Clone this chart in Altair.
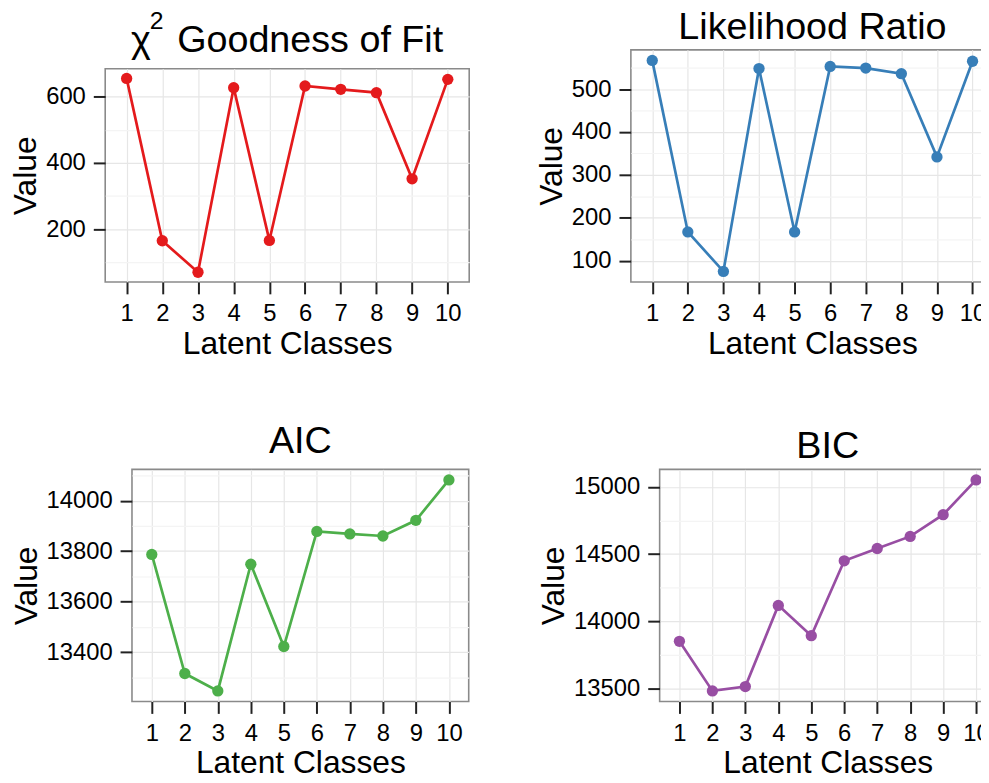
import altair as alt
import pandas as pd

classes = list(range(1, 11))
chisq_vals = [655, 165, 70, 627, 166, 632, 622, 612, 352, 652]
lr_vals = [567, 167, 75, 548, 167, 553, 549, 536, 342, 565]
aic_vals = [13787, 13315, 13246, 13748, 13422, 13878, 13868, 13860, 13922, 14082]
bic_vals = [13853, 13485, 13517, 14120, 13895, 14451, 14542, 14632, 14793, 15051]

chisq_grid = [100, 200, 300, 400, 500, 600]
lr_grid = [100, 150, 200, 250, 300, 350, 400, 450, 500, 550]
aic_grid = [13300, 13400, 13500, 13600, 13700, 13800, 13900, 14000, 14100]
bic_grid = [13500, 13750, 14000, 14250, 14500, 14750, 15000]

colors = ["#E41A1C", "#377EB8", "#4DAF4A", "#984EA3"]
FONT = "Liberation Sans"


def expand(vals, frac=0.05):
    lo, hi = min(vals), max(vals)
    pad = (hi - lo) * frac
    return [lo - pad, hi + pad]


def panel(vals, color, title, width, height, grid_vals, major_step):
    df = pd.DataFrame({"cls": classes, "value": vals})
    major_test = f"datum.value % {major_step} === 0"
    x = alt.X(
        "cls:Q",
        scale=alt.Scale(domain=[0.4, 10.6], nice=False, zero=False),
        axis=alt.Axis(values=classes, title="Latent Classes", format="d",
                      labelPadding=8, titlePadding=3, labelFlush=False,
                      labelOverlap=False, gridColor="#e6e6e6"),
    )
    y = alt.Y(
        "value:Q",
        scale=alt.Scale(domain=expand(vals), nice=False, zero=False),
        axis=alt.Axis(
            values=grid_vals, title="Value", format="d", labelPadding=8,
            titlePadding=3, labelFlush=False, labelOverlap=False,
            labelExpr=f"{major_test} ? datum.label : ''",
            tickOpacity={"condition": {"test": major_test, "value": 1}, "value": 0},
            gridColor={"condition": {"test": major_test, "value": "#e6e6e6"},
                       "value": "#f4f4f4"},
        ),
    )
    base = alt.Chart(df).encode(x=x, y=y)
    line = base.mark_line(color=color, strokeWidth=2.7)
    pts = base.mark_circle(color=color, size=130, opacity=1)
    return alt.layer(line, pts).properties(width=width, height=height, title=title)


def spacer():
    return alt.Chart(pd.DataFrame({"z": [0]})).mark_point(opacity=0, size=1).encode(
        x=alt.X("z:Q", axis=None), y=alt.Y("z:Q", axis=None)
    ).properties(width=1, height=1, view=alt.ViewBackground(strokeOpacity=0))


def std_title(text):
    return alt.Title(text=text, anchor="middle", frame="group", fontSize=38,
                     font=FONT, fontWeight="normal", color="black", offset=3)


chi_title = alt.Title(
    text="\u200b\u00a0\u00a0\u20092",
    subtitle="\u03c7\u2002\u2009Goodness of Fit",
    anchor="start", frame="group", dx=26,
    fontSize=25, font=FONT, fontWeight="normal", color="black",
    subtitleFontSize=38, subtitleFont=FONT, subtitleFontWeight="normal",
    subtitleColor="black", subtitlePadding=-12, offset=9,
)

p1 = panel(chisq_vals, colors[0], chi_title, 367, 215, chisq_grid, 200)
p2 = panel(lr_vals, colors[1], std_title("Likelihood Ratio"), 366, 234, lr_grid, 100)
p3 = panel(aic_vals, colors[2], std_title("AIC"), 339.5, 234, aic_grid, 200)
p4 = panel(bic_vals, colors[3], std_title("BIC"), 339, 234, bic_grid, 500)

row1 = alt.concat(
    spacer(), spacer(), p1, p2, columns=2,
    align={"row": "none", "column": "each"},
    spacing={"row": 0, "column": 65},
)
row2 = alt.hconcat(p3, p4, spacing=67)

chart = alt.concat(
    spacer(), row1, spacer(), row2, columns=2,
    align={"row": "each", "column": "none"},
    spacing={"row": 62, "column": 0},
    padding={"top": -4, "left": 0, "right": 0, "bottom": 0},
    autosize=alt.AutoSizeParams(type="none"),
    params=[alt.VariableParameter(name="width", value=981),
            alt.VariableParameter(name="height", value=779)],
    background="white",
).configure_axis(
    labelFont=FONT, labelFontSize=24, labelColor="black",
    titleFont=FONT, titleFontSize=32, titleFontWeight="normal", titleColor="black",
    domain=False, tickColor="#222222", tickWidth=2, tickSize=12, gridWidth=1.2,
).configure_view(
    stroke="#8a8a8a", strokeWidth=1.6,
)

chart.save("out.html", embed_options={"renderer": "svg", "actions": False})
